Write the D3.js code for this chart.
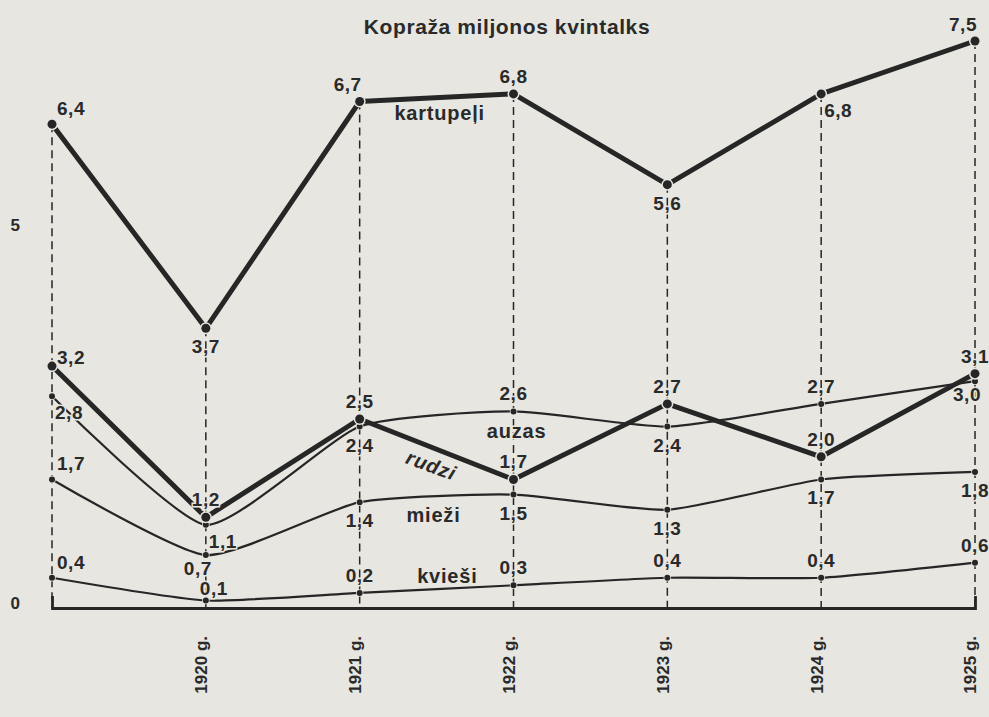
<!DOCTYPE html>
<html>
<head>
<meta charset="utf-8">
<script src="https://cdn.jsdelivr.net/npm/d3@7"></script>
<style>
  html, body { margin: 0; padding: 0; background: #e7e6e1; }
  svg { display: block; }
  text { font-family: "Liberation Sans", Arial, sans-serif; fill: #2a2a2a; }
</style>
</head>
<body>
<div id="grafico"></div>
<script>
// dati (miljonos kvintalu)
const years = [1919, 1920, 1921, 1922, 1923, 1924, 1925];
const yearLabels = ["", "1920 g.", "1921 g.", "1922 g.", "1923 g.", "1924 g.", "1925 g."];
const kartupeli = [6.4, 3.7, 6.7, 6.8, 5.6, 6.8, 7.5];
const rudzi = [3.2, 1.2, 2.5, 1.7, 2.7, 2.0, 3.1];
const auzas = [2.8, 1.1, 2.4, 2.6, 2.4, 2.7, 3.0];
const miezi = [1.7, 0.7, 1.4, 1.5, 1.3, 1.7, 1.8];
const kviesi = [0.4, 0.1, 0.2, 0.3, 0.4, 0.4, 0.6];
const yTicks = [0, 5];
const title = "Kopraža miljonos kvintalks";

// kur likt skaitlus pie punktiem
const offs = {
  a: [0, -11], b: [0, 25], ar: [19, -9], al: [-12, -10],
  br: [17, 23], bl: [-8, 20], r: [19, -2], r2: [8, -5]
};

const series = [
  { name: "kartupeļi", values: kartupeli, thick: true,
    pos: ["ar", "b", "al", "a", "b", "br", "al"],
    tag: { year: 1921.52, val: 6.45 } },
  { name: "rudzi", values: rudzi, thick: true,
    pos: ["r", "a", "a", "a", "a", "a", "a"],
    tag: { year: 1921.45, val: 1.8, rot: 20, italic: true } },
  { name: "auzas", values: auzas, thick: false,
    pos: ["br", "br", "b", "a", "b", "a", "bl"],
    tag: { year: 1922.02, val: 2.25 } },
  { name: "mieži", values: miezi, thick: false,
    pos: ["ar", "bl", "b", "b", "b", "b", "b"],
    tag: { year: 1921.48, val: 1.14 } },
  { name: "kvieši", values: kviesi, thick: false,
    pos: ["ar", "r2", "a", "a", "a", "a", "a"],
    tag: { year: 1921.57, val: 0.33 } }
];

const W = 989, H = 717;
const paper = "#e7e6e1";
const ink = "#262626";

const svg = d3.select("#grafico")
  .append("svg")
    .attr("width", W)
    .attr("height", H);

svg.append("rect").attr("width", W).attr("height", H).attr("fill", paper);

const x = d3.scaleLinear().domain([1919, 1925]).range([52, 975]);
const y = d3.scaleLinear().domain([0, 7.5]).range([608, 41]);

const fmt = v => d3.format(".1f")(v).replace(".", ",");

// virsraksts
svg.append("text")
  .attr("x", 507)
  .attr("y", 34)
  .attr("text-anchor", "middle")
  .attr("font-size", "21px")
  .attr("font-weight", "bold")
  .attr("letter-spacing", "0.6px")
  .text(title);

// vertikalas raustitas linijas
svg.append("g")
  .selectAll("line")
  .data(years)
  .join("line")
    .attr("x1", d => x(d))
    .attr("x2", d => x(d))
    .attr("y1", (d, i) => y(d3.max(series, s => s.values[i])))
    .attr("y2", y(0))
    .attr("stroke", ink)
    .attr("stroke-width", 1.5)
    .attr("stroke-dasharray", "8,5");

// x ass
const xAxis = svg.append("g")
  .attr("transform", "translate(0," + y(0) + ")")
  .call(d3.axisBottom(x)
    .tickValues(years)
    .tickSize(0)
    .tickSizeOuter(-12)
    .tickFormat((d, i) => yearLabels[i]));

xAxis.select(".domain").attr("stroke", ink).attr("stroke-width", 2.8);
xAxis.selectAll("text")
  .attr("transform", "rotate(-90)")
  .attr("text-anchor", "end")
  .attr("x", -28)
  .attr("y", 0)
  .attr("dy", "0.05em")
  .attr("font-size", "17px")
  .attr("font-weight", "bold")
  .style("font-family", "'Liberation Sans', Arial, sans-serif")
  .attr("fill", ink);

// y ass - tikai skaitli
const yAxis = svg.append("g")
  .attr("transform", "translate(20,0)")
  .call(d3.axisLeft(y).tickValues(yTicks).tickSize(0).tickPadding(0));
yAxis.select(".domain").remove();
yAxis.selectAll("text")
  .attr("dy", "0.05em")
  .attr("font-size", "17px")
  .attr("font-weight", "bold")
  .style("font-family", "'Liberation Sans', Arial, sans-serif")
  .attr("fill", ink);

// linijas
const lineThick = d3.line()
  .x((d, i) => x(years[i]))
  .y(d => y(d));
const lineThin = d3.line()
  .x((d, i) => x(years[i]))
  .y(d => y(d))
  .curve(d3.curveCardinal.tension(0.45));

// plānas vispirms, tad biezās virsū
const order = series.slice().sort((a, b) => a.thick - b.thick);

order.forEach(s => {
  svg.append("path")
    .datum(s.values)
    .attr("fill", "none")
    .attr("stroke", ink)
    .attr("stroke-width", s.thick ? 5 : 2.2)
    .attr("stroke-linejoin", "round")
    .attr("d", s.thick ? lineThick : lineThin);

  svg.append("g")
    .selectAll("circle")
    .data(s.values)
    .join("circle")
      .attr("cx", (d, i) => x(years[i]))
      .attr("cy", d => y(d))
      .attr("r", s.thick ? 4.5 : 3)
      .attr("fill", ink)
      .attr("stroke", paper)
      .attr("stroke-width", s.thick ? 3 : 1.5)
      .style("paint-order", "stroke");
});

// skaitli pie punktiem
series.forEach(s => {
  svg.append("g")
    .selectAll("text")
    .data(s.values)
    .join("text")
      .attr("x", (d, i) => x(years[i]) + offs[s.pos[i]][0])
      .attr("y", (d, i) => y(d) + offs[s.pos[i]][1])
      .attr("text-anchor", "middle")
      .attr("font-size", "19px")
      .attr("font-weight", "bold")
      .attr("letter-spacing", "0.5px")
      .attr("stroke", paper)
      .attr("stroke-width", 3)
      .style("paint-order", "stroke")
      .text(d => fmt(d));
});

// kultūru nosaukumi
series.forEach(s => {
  const tx = x(s.tag.year), ty = y(s.tag.val);
  svg.append("text")
    .attr("transform", "translate(" + tx + "," + ty + ") rotate(" + (s.tag.rot || 0) + ")")
    .attr("text-anchor", "middle")
    .attr("font-size", "20px")
    .attr("font-weight", "bold")
    .attr("font-style", s.tag.italic ? "italic" : "normal")
    .attr("letter-spacing", "0.8px")
    .attr("stroke", paper)
    .attr("stroke-width", s.tag.italic ? 4 : 3)
    .style("paint-order", "stroke")
    .text(s.name);
});
</script>
</body>
</html>
